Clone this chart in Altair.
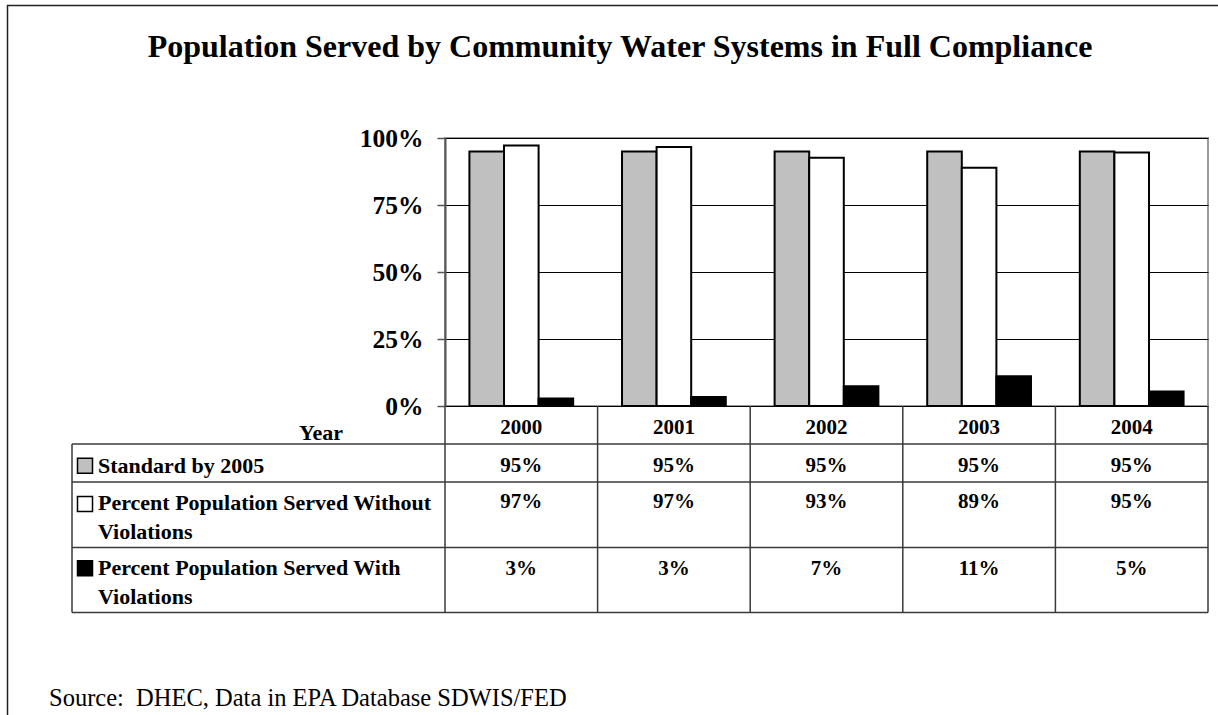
import altair as alt
import pandas as pd

# ---- data -------------------------------------------------------------
years = ["2000", "2001", "2002", "2003", "2004"]
series = [
    "Standard by 2005",
    "Percent Population Served Without\nViolations",
    "Percent Population Served With\nViolations",
]
standard = [95, 95, 95, 95, 95]
without_violations = [97.2, 96.6, 92.6, 88.9, 94.6]
with_violations = [2.8, 3.4, 7.4, 11.1, 5.4]
series_colors = ["#C0C0C0", "#FFFFFF", "#000000"]

title_text = "Population Served by Community Water Systems in Full Compliance"
source_text = "Source:\u00a0 DHEC, Data in EPA Database SDWIS/FED"

values_by_series = [standard, without_violations, with_violations]
records = []
for s, vals in zip(series, values_by_series):
    for y, v in zip(years, vals):
        records.append({"year": y, "series": s, "value": v})
df = pd.DataFrame(records)

# ---- layout -------------------------------------------------------------
W, H = 763, 268          # plot area
FONT = "'Times New Roman', 'Liberation Serif', Tinos, serif"
LINE = "#3a3a3a"

x_scale = alt.Scale(domain=years, paddingInner=0.32, paddingOuter=0.16)
x_enc = alt.X("year:N", scale=x_scale, axis=None)

bars = alt.Chart(df).mark_bar(stroke="black", strokeWidth=2).encode(
    x=x_enc,
    xOffset=alt.XOffset("series:N", scale=alt.Scale(domain=series, paddingInner=0, paddingOuter=0)),
    y=alt.Y(
        "value:Q",
        scale=alt.Scale(domain=[0, 100]),
        axis=alt.Axis(
            values=[0, 25, 50, 75, 100],
            labelExpr="datum.value + '%'",
            title=None,
            grid=True,
            gridColor="black",
            gridWidth=1,
            domainColor="#555555",
            domainWidth=2,
            tickColor="#555555",
            tickWidth=1.5,
            tickSize=8,
            labelPadding=14,
            labelFont=FONT,
            labelFontSize=25.5,
            labelFontWeight="bold",
            labelColor="black",
        ),
    ),
    color=alt.Color("series:N", scale=alt.Scale(domain=series, range=series_colors), legend=None),
)

one = pd.DataFrame({"k": [0]})

def hline(y, x0, x1, color=LINE, width=1.5):
    return alt.Chart(one).mark_rule(color=color, strokeWidth=width).encode(
        x=alt.value(x0), x2=alt.value(x1), y=alt.value(y), y2=alt.value(y)
    )

def vline(x, y0, y1, color=LINE, width=1.5):
    return alt.Chart(one).mark_rule(color=color, strokeWidth=width).encode(
        x=alt.value(x), x2=alt.value(x), y=alt.value(y0), y2=alt.value(y1)
    )

# data table grid
row_lines = [306, 344, 409.5, 474.5]
table_left = -373
step = W / len(years)
lines = [hline(y, table_left, W) for y in row_lines]
lines.append(vline(table_left, row_lines[0], row_lines[-1]))
lines += [vline(i * step, H, row_lines[-1]) for i in range(len(years) + 1)]

# table header: years
years_df = pd.DataFrame({"year": years})
year_text = alt.Chart(years_df).mark_text(
    font=FONT, fontSize=21, fontWeight="bold", baseline="alphabetic", color="black"
).encode(x=x_enc, y=alt.value(295.5), text="year:N")

year_label = alt.Chart(one).mark_text(
    font=FONT, fontSize=22, fontWeight="bold", baseline="alphabetic", align="center", color="black"
).encode(x=alt.value(-124), y=alt.value(302), text=alt.value("Year"))

# table rows: legend key, row label and values
value_baselines = [333.7, 370.3, 437]
label_baselines = [335.3, 372, 437]
key_centers = [327.8, 366, 430.3]
row_layers = []
for s, color, vb, lb, kc in zip(series, series_colors, value_baselines, label_baselines, key_centers):
    sub = df[df["series"] == s]
    row_layers.append(
        alt.Chart(sub).transform_calculate(
            label="format(datum.value, '.0f') + '%'"
        ).mark_text(
            font=FONT, fontSize=21, fontWeight="bold", baseline="alphabetic", color="black"
        ).encode(x=x_enc, y=alt.value(vb), text="label:N")
    )
    row_layers.append(
        alt.Chart(pd.DataFrame({"series": [s]})).mark_text(
            font=FONT, fontSize=22, fontWeight="bold", baseline="alphabetic", align="left",
            lineBreak="\n", lineHeight=28.5, color="black"
        ).encode(x=alt.value(-347), y=alt.value(lb), text="series:N")
    )
    row_layers.append(
        alt.Chart(one).mark_square(size=225, fill=color, fillOpacity=1, stroke="black", strokeWidth=1.5, opacity=1).encode(
            x=alt.value(-360), y=alt.value(kc)
        )
    )

title = alt.Chart(one).mark_text(
    font=FONT, fontSize=32, fontWeight="bold", baseline="alphabetic", align="center", color="black"
).encode(x=alt.value(175), y=alt.value(-81.3), text=alt.value(title_text))

source = alt.Chart(one).mark_text(
    font=FONT, fontSize=24.5, baseline="alphabetic", align="left", color="black"
).encode(x=alt.value(-396), y=alt.value(567.5), text=alt.value(source_text))

frame = alt.Chart(one).mark_rect(fillOpacity=0, stroke="#222222", strokeWidth=1.5).encode(
    x=alt.value(-437.5), x2=alt.value(W + 100), y=alt.value(-132.5), y2=alt.value(H + 400)
)

chart = alt.layer(
    frame, bars, *lines, year_text, year_label, *row_layers, title, source
).properties(
    width=W,
    height=H,
    padding={"left": 445, "top": 138, "right": 10, "bottom": 309},
    autosize=alt.AutoSizeParams(type="none"),
    background="white",
).configure_view(
    stroke="#9a9a9a", strokeWidth=2
)

chart.save("out.html", embed_options={"renderer": "svg", "actions": False})
